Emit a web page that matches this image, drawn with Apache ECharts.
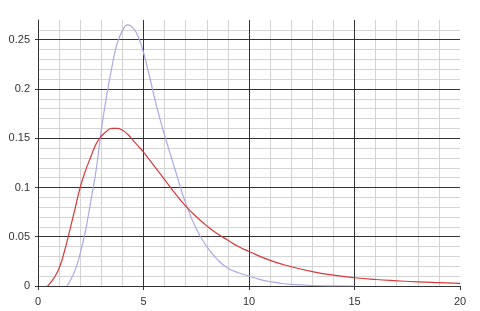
<!DOCTYPE html>
<html>
<head>
<meta charset="utf-8">
<script src="https://cdn.jsdelivr.net/npm/echarts@6/dist/echarts.min.js"></script>
<style>html,body{margin:0;padding:0;background:#fff}#c{width:480px;height:311px}</style>
</head>
<body>
<div id="c"></div>
<script>
const xTicks = [0, 5, 10, 15, 20];
const yTicks = [0, 0.05, 0.1, 0.15, 0.2, 0.25];
const redX = [0.44, 0.5, 0.75, 1.0, 1.25, 1.5, 1.75, 2.0, 2.25, 2.5, 2.75, 3.0, 3.25, 3.5, 3.75, 4.0, 4.25, 4.5, 4.75, 5.0, 5.5, 6.0, 6.5, 7.0, 7.5, 8.0, 8.5, 9.0, 9.5, 10, 11, 12, 13, 14, 15, 16, 17, 18, 19, 20];
const redY = [0, 0.001, 0.008, 0.018, 0.035, 0.056, 0.078, 0.100, 0.117, 0.131, 0.144, 0.152, 0.157, 0.160, 0.160, 0.158, 0.154, 0.148, 0.142, 0.136, 0.122, 0.108, 0.094, 0.081, 0.0705, 0.061, 0.053, 0.0465, 0.040, 0.035, 0.026, 0.0196, 0.0146, 0.011, 0.0084, 0.0066, 0.0053, 0.0042, 0.0034, 0.0027];
const blueX = [1.36, 1.5, 1.75, 2.0, 2.25, 2.5, 2.75, 3.0, 3.25, 3.5, 3.75, 4.0, 4.25, 4.5, 4.75, 5.0, 5.25, 5.5, 5.75, 6.0, 6.5, 7.0, 7.5, 8.0, 8.5, 9.0, 9.5, 10, 10.5, 11, 11.5, 12, 13, 14, 15];
const blueY = [0, 0.0044, 0.0156, 0.033, 0.056, 0.086, 0.117, 0.158, 0.193, 0.222, 0.246, 0.259, 0.265, 0.262, 0.253, 0.237, 0.216, 0.193, 0.172, 0.153, 0.118, 0.084, 0.058, 0.040, 0.027, 0.018, 0.0135, 0.0100, 0.0068, 0.0044, 0.0027, 0.0016, 0.0005, 0.0001, 0];

const redData = redX.map((x, i) => [x, redY[i]]);
const blueData = blueX.map((x, i) => [x, blueY[i]]);

const chart = echarts.init(document.getElementById('c'), null, {renderer: 'canvas'});
const font = {fontFamily: 'Liberation Sans, Arial, sans-serif', fontSize: 11, color: '#333'};
chart.setOption({
  animation: false,
  grid: {left: 38, right: 20, top: 20, bottom: 25, containLabel: false},
  xAxis: [{
    type: 'value', min: 0, max: 20, interval: 5,
    axisLine: {show: true, lineStyle: {color: '#333', width: 1}},
    axisTick: {show: true, length: 4, lineStyle: {color: '#333'}},
    axisLabel: Object.assign({margin: 10, formatter: v => xTicks.includes(v) ? String(v) : ''}, font),
    splitLine: {show: true, showMaxLine: false, showMinLine: false, lineStyle: {color: '#333', width: 1}},
    minorTick: {show: false, splitNumber: 5},
    minorSplitLine: {show: true, lineStyle: {color: '#d4d4d4', width: 1}},
    z: 1
  }],
  yAxis: [{
    type: 'value', min: 0, max: 0.27, interval: 0.01,
    axisLine: {show: false}, axisTick: {show: false}, axisLabel: {show: false},
    splitLine: {show: true, showMaxLine: false, showMinLine: false, lineStyle: {color: '#d4d4d4', width: 1}},
    z: 0
  }, {
    type: 'value', min: 0, max: 0.27, interval: 0.05, position: 'left',
    axisLine: {show: true, lineStyle: {color: '#333', width: 1}},
    axisTick: {show: true, length: 3, lineStyle: {color: '#333'}},
    axisLabel: Object.assign({margin: 8, showMaxLabel: false, formatter: v => yTicks.some(t => Math.abs(t - v) < 1e-9) ? String(+v.toFixed(2)) : ''}, font),
    splitLine: {show: true, showMaxLine: false, showMinLine: false, lineStyle: {color: '#333', width: 1}},
    z: 2
  }],
  series: [{
    type: 'line', data: blueData, yAxisIndex: 1, smooth: 0.5, symbol: 'none',
    lineStyle: {color: '#a9a9e6', width: 1.2}, z: 5
  }, {
    type: 'line', data: redData, yAxisIndex: 1, smooth: 0.5, symbol: 'none',
    lineStyle: {color: '#d83a3a', width: 1.2}, z: 6
  }]
});
</script>
</body>
</html>
